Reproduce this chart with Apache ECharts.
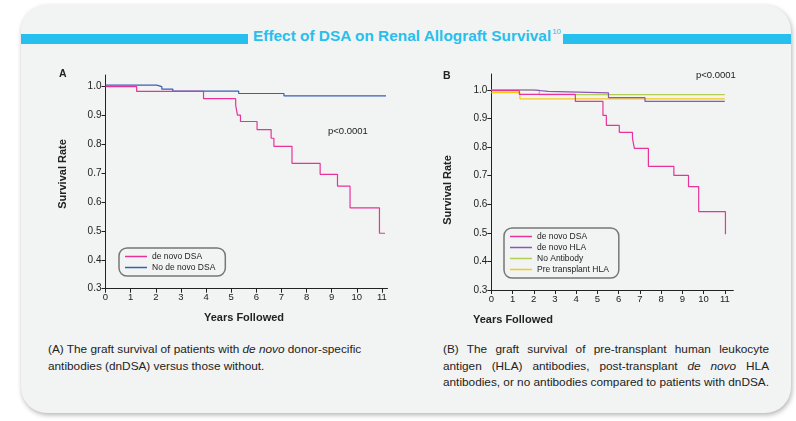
<!DOCTYPE html>
<html>
<head>
<meta charset="utf-8">
<script src="https://cdn.jsdelivr.net/npm/echarts@6/dist/echarts.min.js"></script>
<style>
  html, body { margin: 0; padding: 0; background: #fff; }
  .wrap { position: relative; width: 796px; height: 421px; overflow: hidden; font-family: "Liberation Sans", Arial, sans-serif; }
  .card { position: absolute; left: 21px; top: 5px; width: 770px; height: 408px; border-radius: 26px;
          background: #f2f3f3; box-shadow: 1px 2px 5px rgba(0,0,0,0.3); }
  .band { position: absolute; top: 34px; height: 10px; background: #27bfed; }
  .title { position: absolute; left: 253px; top: 27px; font-size: 15.4px; font-weight: bold; color: #27bfed; white-space: nowrap; }
  .title sup { font-size: 8px; font-weight: normal; vertical-align: 0; position: relative; top: -7px; margin-left: 1px; }
  .cap { position: absolute; font-size: 11.8px; line-height: 16.5px; color: #222; }
  .cap .j { text-align: justify; text-align-last: justify; }
  #main { position: absolute; left: 0; top: 0; width: 796px; height: 421px; }
</style>
</head>
<body>
<div class="wrap">
  <div class="card"></div>
  <div class="band" style="left:21px;width:227px;"></div>
  <div class="band" style="left:563px;width:228px;"></div>
  <div class="title">Effect of DSA on Renal Allograft Survival<sup>10</sup></div>
  <div class="cap" style="left:48px;top:341px;width:340px;">(A) The graft survival of patients with <i>de novo</i> donor-specific<br>antibodies (dnDSA) versus those without.</div>
  <div class="cap" style="left:443px;top:341px;width:326px;">
    <div class="j">(B) The graft survival of pre-transplant human leukocyte</div>
    <div class="j">antigen (HLA) antibodies, post-transplant <i>de novo</i> HLA</div>
    <div>antibodies, or no antibodies compared to patients with dnDSA.</div>
  </div>
  <div id="main"></div>
</div>
<script>
// panel A
var aDsaYears = [0, 1.24, 3.9, 5.18, 5.25, 5.37, 6.03, 6.59, 6.7, 7.42, 8.54, 9.23, 9.73, 10.9, 11.12];
var aDsaSurv  = [1.0, 0.983, 0.958, 0.935, 0.901, 0.879, 0.851, 0.821, 0.793, 0.734, 0.696, 0.655, 0.58, 0.492, 0.492];
var aNoYears  = [0, 2.04, 2.24, 2.68, 5.3, 7.1, 11.16];
var aNoSurv   = [1.005, 1.0, 0.991, 0.984, 0.976, 0.968, 0.968];

// panel B
var bDsaYears = [0, 1.32, 3.96, 5.26, 5.42, 6.03, 6.65, 6.74, 7.4, 8.6, 9.29, 9.77, 11.03];
var bDsaSurv  = [0.998, 0.985, 0.96, 0.911, 0.876, 0.852, 0.831, 0.796, 0.733, 0.701, 0.662, 0.574, 0.495];
var bHlaYears = [0, 1.98, 2.69, 5.52, 7.24, 11.0];
var bHlaSurv  = [1.0, 0.995, 0.99, 0.973, 0.96, 0.96];
var bNoAbYears = [0, 2.26, 11.0];
var bNoAbSurv  = [1.0, 0.984, 0.984];
var bPreYears = [0, 1.35, 11.0];
var bPreSurv  = [0.991, 0.969, 0.969];

var xTicks = [0, 1, 2, 3, 4, 5, 6, 7, 8, 9, 10, 11];
var yTicks = [0.3, 0.4, 0.5, 0.6, 0.7, 0.8, 0.9, 1.0];

var PINK = '#e8339b', BLUE = '#3361b5', PURPLE = '#8e55b8', GREEN = '#b3cf55', YELLOW = '#f2cc14';

function pairs(xs, ys) {
  return xs.map(function (x, i) { return [x, ys[i]]; });
}

function xAxisCfg(idx, max) {
  return {
    type: 'value', gridIndex: idx, min: 0, max: max,
    splitLine: { show: false },
    axisLine: { lineStyle: { color: '#222', width: 1 } },
    axisTick: { length: 4, customValues: xTicks, lineStyle: { color: '#222' } },
    axisLabel: { customValues: xTicks, fontSize: 9.5, color: '#222', margin: 4 }
  };
}
function yAxisCfg(idx, max) {
  return {
    type: 'value', gridIndex: idx, min: 0.3, max: max,
    splitLine: { show: false },
    axisLine: { lineStyle: { color: '#222', width: 1 } },
    axisTick: { length: 4, customValues: yTicks, lineStyle: { color: '#222' } },
    axisLabel: { customValues: yTicks, fontSize: 10, color: '#222', margin: 4,
      formatter: function (v) { return v.toFixed(1); } }
  };
}
function km(name, idx, xs, ys, color, z) {
  return {
    name: name, type: 'line', step: 'end', xAxisIndex: idx, yAxisIndex: idx,
    data: pairs(xs, ys), showSymbol: false, symbol: 'none', z: z,
    lineStyle: { color: color, width: 1.2 }, itemStyle: { color: color },
    animation: false
  };
}
function legendCfg(idx, left, top, names) {
  return {
    orient: 'vertical', left: left, top: top, data: names,
    icon: 'rect', itemWidth: 22, itemHeight: 1.5, itemGap: 2,
    padding: [4, 10, 4, 6],
    borderColor: '#777', borderWidth: 1.5, borderRadius: 8,
    backgroundColor: 'transparent',
    textStyle: { fontSize: 8.5, color: '#222', lineHeight: 9 },
    selectedMode: false
  };
}

var myChart = echarts.init(document.getElementById('main'));
var option = {
  animation: false,
  grid: [
    { left: 105.5, top: 75, width: 282, height: 213.7 },
    { left: 491.3, top: 74, width: 242, height: 216 }
  ],
  xAxis: [xAxisCfg(0, 11.22), xAxisCfg(1, 11.4)],
  yAxis: [yAxisCfg(0, 1.04), yAxisCfg(1, 1.056)],
  legend: [
    legendCfg(0, 119, 248, ['de novo DSA', 'No de novo DSA']),
    legendCfg(1, 504, 228, ['de novo DSA ', 'de novo HLA', 'No Antibody', 'Pre transplant HLA'])
  ],
  series: [
    km('No de novo DSA', 0, aNoYears, aNoSurv, BLUE, 2),
    km('de novo DSA', 0, aDsaYears, aDsaSurv, PINK, 3),
    km('No Antibody', 1, bNoAbYears, bNoAbSurv, GREEN, 2),
    km('Pre transplant HLA', 1, bPreYears, bPreSurv, YELLOW, 2),
    km('de novo HLA', 1, bHlaYears, bHlaSurv, PURPLE, 3),
    km('de novo DSA ', 1, bDsaYears, bDsaSurv, PINK, 4)
  ],
  graphic: [
    { type: 'text', left: 59, top: 69, style: { text: 'A', font: 'bold 10.5px "Liberation Sans", Arial', fill: '#222' } },
    { type: 'text', left: 443, top: 71, style: { text: 'B', font: 'bold 10.5px "Liberation Sans", Arial', fill: '#222' } },
    { type: 'text', x: 63, y: 174, rotation: Math.PI / 2,
      style: { text: 'Survival Rate', font: 'bold 11px "Liberation Sans", Arial', fill: '#222', align: 'center', verticalAlign: 'middle' } },
    { type: 'text', x: 448, y: 190, rotation: Math.PI / 2,
      style: { text: 'Survival Rate', font: 'bold 11px "Liberation Sans", Arial', fill: '#222', align: 'center', verticalAlign: 'middle' } },
    { type: 'text', x: 244, y: 318,
      style: { text: 'Years Followed', font: 'bold 11px "Liberation Sans", Arial', fill: '#222', align: 'center', verticalAlign: 'middle' } },
    { type: 'text', x: 513, y: 320,
      style: { text: 'Years Followed', font: 'bold 11px "Liberation Sans", Arial', fill: '#222', align: 'center', verticalAlign: 'middle' } },
    { type: 'text', x: 328, y: 131,
      style: { text: 'p<0.0001', font: '9.5px "Liberation Sans", Arial', fill: '#222', verticalAlign: 'middle' } },
    { type: 'text', x: 696, y: 75,
      style: { text: 'p<0.0001', font: '9.5px "Liberation Sans", Arial', fill: '#222', verticalAlign: 'middle' } }
  ]
};
myChart.setOption(option);
window.onresize = function () {
  myChart.resize();
};
</script>
</body>
</html>
